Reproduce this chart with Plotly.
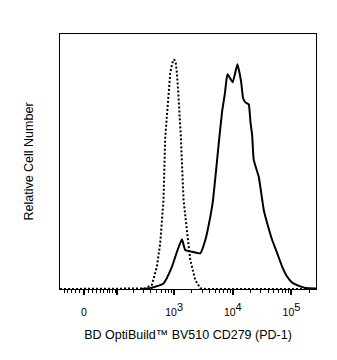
import numpy as np
import plotly.graph_objects as go

# ---- data (fluorescence values on a biexponential axis, relative counts) ----
COFACTOR = 58.0
x_min, x_max = -63, 262144

dotted_x = [-63, 260, 317, 415, 506, 577, 657, 702, 800, 856, 926, 1002, 1063,
            1115, 1187, 1304, 1445, 1652, 1882, 2291, 2790, 3398, 262144]
dotted_y = [0, 0, 0.2, 1.6, 8.7, 17.9, 34.9, 59.1, 75.4, 84.6, 88.6, 90.1, 88.6,
            84.6, 75.4, 59.1, 34.9, 21.8, 11.4, 3.5, 0.3, 0, 0]

solid_x = [260, 388, 657, 915, 1115, 1357, 1545, 2012, 2790, 3398, 4138, 4602,
           5736, 6558, 7269, 7861, 8178, 9955, 11980, 13850, 14990, 16415, 18694,
           19972, 21356, 22750, 27700, 33727, 38570, 46950, 57190, 69600, 84770,
           103200, 133800, 174300, 262144]
solid_y = [0, 0.3, 2.2, 8.7, 14.6, 19.5, 15.3, 14.6, 14.0, 19.2, 28.4, 34.9,
           56.7, 69.5, 76.1, 82.6, 84.2, 81.1, 88.1, 81.3, 74.8, 73.2, 72.4,
           65.6, 60.4, 50.6, 44.0, 31.0, 25.8, 19.2, 14.0, 8.7, 4.8,
           2.5, 1.2, 0.4, 0.2]

major_ticks = [0, 100, 1000, 10000, 100000]
exponents = [None, None, "3", "4", "5"]
minor_ticks = ([-50, -40, -30, -20, -10] + list(range(10, 100, 10)) +
               list(range(200, 1000, 100)) + list(range(2000, 10000, 1000)) +
               list(range(20000, 100000, 10000)) + [200000])

x_title = "BD OptiBuild™ BV510 CD279 (PD-1)"
y_title = "Relative Cell Number"


def T(v):
    return np.arcsinh(np.asarray(v, dtype=float) / COFACTOR)


def tick_label(v, e):
    if v == 0:
        return "0"
    if e is None:
        return ""
    return f"10<sup><span style='font-size:11px'>{e}</span></sup>"


major_labels = [tick_label(v, e) for v, e in zip(major_ticks, exponents)]

FONT = "Liberation Sans, Arial, sans-serif"

fig = go.Figure()
fig.add_trace(go.Scatter(x=T(dotted_x), y=dotted_y, mode="lines",
                         line=dict(color="black", width=2, dash="2px,2px"),
                         hoverinfo="skip", showlegend=False))
fig.add_trace(go.Scatter(x=T(solid_x), y=solid_y, mode="lines",
                         line=dict(color="black", width=2, shape="spline", smoothing=0.4),
                         hoverinfo="skip", showlegend=False))

fig.update_layout(
    width=337, height=360,
    margin=dict(l=60, r=21, t=34, b=71, autoexpand=False),
    paper_bgcolor="white", plot_bgcolor="white",
    font=dict(family=FONT, color="black"),
)
fig.update_xaxes(
    range=[float(T(x_min)), float(T(x_max))],
    tickmode="array", tickvals=T(major_ticks).tolist(), ticktext=major_labels,
    ticks="outside", ticklen=5, tickwidth=2, tickcolor="black",
    ticklabelstandoff=8,
    minor=dict(tickmode="array", tickvals=T(minor_ticks).tolist(),
               ticks="outside", ticklen=3, tickwidth=1, tickcolor="black"),
    tickfont=dict(size=10.5, family=FONT),
    showgrid=False, zeroline=False,
    showline=True, linecolor="black", linewidth=1, mirror=True,
    title=dict(text=x_title, font=dict(size=12.5, family=FONT), standoff=13),
)
fig.update_yaxes(
    range=[0, 100], showticklabels=False, ticks="",
    showgrid=False, zeroline=False,
    showline=True, linecolor="black", linewidth=1, mirror=True,
    title=dict(text=y_title, font=dict(size=12.5, family=FONT), standoff=22),
)

fig.write_html("out.html")
